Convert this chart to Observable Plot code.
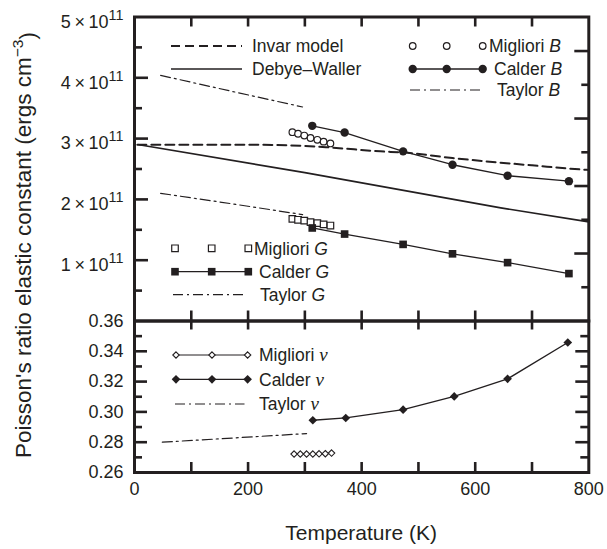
<!DOCTYPE html>
<html><head><meta charset="utf-8">
<script src="https://cdn.jsdelivr.net/npm/d3@7"></script>
<script src="https://cdn.jsdelivr.net/npm/@observablehq/plot@0.6"></script>
<style>
body{margin:0;background:#fff;}
#wrap{position:relative;width:607px;height:549px;}
#wrap svg{position:absolute;left:0;top:0;}
</style></head><body><div id="wrap"></div>
<script>
// ---------- data (elastic constants in units of 10^11 ergs cm^-3) ----------
const calderT   = [313, 370, 473, 560, 657, 765];
const calderB   = [3.21, 3.10, 2.79, 2.57, 2.39, 2.30];
const calderG   = [1.53, 1.43, 1.26, 1.105, 0.96, 0.78];
const calderNuT = [314, 372, 473, 563, 657, 763];
const calderNu  = [0.2945, 0.2960, 0.3015, 0.3102, 0.3218, 0.3458];

const miglioriT   = [278, 288, 299, 310, 322, 333, 345];
const miglioriB   = [3.105, 3.08, 3.05, 3.01, 2.98, 2.95, 2.92];
const miglioriG   = [1.68, 1.665, 1.65, 1.625, 1.61, 1.59, 1.57];
const miglioriNuT = [281, 292, 303, 314, 325, 336, 347];
const miglioriNu  = [0.2722, 0.2722, 0.2722, 0.2722, 0.2723, 0.2724, 0.2728];

const taylorT   = [46, 170, 296];
const taylorB   = [4.04, 3.78, 3.52];
const taylorG   = [2.10, 1.93, 1.75];
const taylorNuT = [49, 175, 303];
const taylorNu  = [0.2800, 0.2828, 0.2857];

const invarT = [5, 100, 200, 300, 350, 433, 474, 560, 638, 700, 791, 800];
const invar  = [2.90, 2.90, 2.90, 2.88, 2.85, 2.79, 2.77, 2.68, 2.61, 2.56, 2.49, 2.485];
const dwT = [8, 300, 645, 800];
const dw  = [2.90, 2.44, 1.86, 1.63];

// ---------- scales & ticks ----------
const xDomain = [0, 800];
const topDomain = [0, 5];
const botDomain = [0.26, 0.36];
const xLabels   = [0, 200, 400, 600, 800];
const xTickVals = [100, 200, 300, 400, 500, 600, 700];
const topYLabels = [1, 2, 3, 4, 5];
const topYMajor  = [1, 2, 3, 4];
const topYMinor  = [0.5, 1.5, 2.5, 3.5, 4.5];
const topRightLong  = [1.11, 2.22, 3.33, 4.44];
const topRightShort = [0.555, 1.665, 2.775, 3.885];
const botYLabels = [0.26, 0.28, 0.30, 0.32, 0.34, 0.36];
const botYMajor  = [0.28, 0.30, 0.32, 0.34];
const botYMinor  = [0.27, 0.29, 0.31, 0.33, 0.35];

const zip = (xs, ys) => xs.map((x, i) => ({x, y: ys[i]}));

// ---------- layout ----------
const W = 607, H = 549, ml = 134, mr = 18.7;
const innerW = W - ml - mr;
const topMT = 16.5, topMB = H - 320.5;
const botMT = 320.5, botMB = H - 472;
const topInnerH = H - topMT - topMB, botInnerH = H - botMT - botMB;
const ink = "#231f20";
const font = "'Liberation Sans', Arial, Helvetica, sans-serif";
const dashDot = "10,4,2,4";
const plotStyle = {fontFamily: font, fontSize: "18px", background: "transparent", overflow: "visible", color: ink};

// inward tick marks: pixel lengths converted to data units of each scale
const perPxX = (xDomain[1] - xDomain[0]) / innerW;
function yTicks(vals, len, side) {
  const L = len * perPxX;
  return Plot.ruleY(vals, {y: d => d, stroke: ink, strokeWidth: 2.6,
    x1: side === "left" ? xDomain[0] : xDomain[1] - L,
    x2: side === "left" ? xDomain[0] + L : xDomain[1]});
}
function xTicks(vals, len, side, dom, ih) {
  const L = len * (dom[1] - dom[0]) / ih;
  return Plot.ruleX(vals, {x: d => d, stroke: ink, strokeWidth: 2.6,
    y1: side === "top" ? dom[1] - L : dom[0],
    y2: side === "top" ? dom[1] : dom[0] + L});
}

// ---------- top panel ----------
const topPlot = Plot.plot({
  width: W, height: H, marginLeft: ml, marginRight: mr, marginTop: topMT, marginBottom: topMB,
  style: plotStyle,
  x: {domain: xDomain, axis: null},
  y: {domain: topDomain, axis: null},
  marks: [
    Plot.line(zip(invarT, invar), {x: "x", y: "y", stroke: ink, strokeWidth: 2, strokeDasharray: "9,5", curve: "monotone-x"}),
    Plot.line(zip(dwT, dw), {x: "x", y: "y", stroke: ink, strokeWidth: 1.6}),
    Plot.line(zip(taylorT, taylorB), {x: "x", y: "y", stroke: ink, strokeWidth: 1.2, strokeDasharray: dashDot}),
    Plot.line(zip(taylorT, taylorG), {x: "x", y: "y", stroke: ink, strokeWidth: 1.2, strokeDasharray: dashDot}),
    Plot.dot(zip(miglioriT, miglioriB), {x: "x", y: "y", r: 3.3, fill: "white", stroke: ink, strokeWidth: 1.2}),
    Plot.dot(zip(miglioriT, miglioriG), {x: "x", y: "y", r: 3.7, symbol: "square", fill: "white", stroke: ink, strokeWidth: 1.2}),
    Plot.line(zip(calderT, calderB), {x: "x", y: "y", stroke: ink, strokeWidth: 1.3}),
    Plot.dot(zip(calderT, calderB), {x: "x", y: "y", r: 4.2, fill: ink}),
    Plot.line(zip(calderT, calderG), {x: "x", y: "y", stroke: ink, strokeWidth: 1.3}),
    Plot.dot(zip(calderT, calderG), {x: "x", y: "y", r: 4.3, symbol: "square", fill: ink}),
    yTicks(topYMajor, 14, "left"),
    yTicks(topYMinor, 8, "left"),
    yTicks(topRightLong, 14, "right"),
    yTicks(topRightShort, 7, "right"),
    xTicks(xTickVals, 10, "top", topDomain, topInnerH),
    xTicks(xTickVals, 10, "bottom", topDomain, topInnerH),
    Plot.frame({stroke: ink, strokeWidth: 3}),
    Plot.axisY({ticks: topYLabels, label: null, tickSize: 0, tickPadding: 11, dy: 5, fontSize: 18, tickFormat: d => `${d}\u2009×\u200910`})
  ]
});

// ---------- bottom panel ----------
const botPlot = Plot.plot({
  width: W, height: H, marginLeft: ml, marginRight: mr, marginTop: botMT, marginBottom: botMB,
  style: plotStyle,
  x: {domain: xDomain, axis: null},
  y: {domain: botDomain, axis: null},
  marks: [
    Plot.line(zip(taylorNuT, taylorNu), {x: "x", y: "y", stroke: ink, strokeWidth: 1.2, strokeDasharray: dashDot}),
    Plot.line(zip(miglioriNuT, miglioriNu), {x: "x", y: "y", stroke: ink, strokeWidth: 1}),
    Plot.dot(zip(miglioriNuT, miglioriNu), {x: "x", y: "y", r: 2.9, symbol: "diamond2", fill: "white", stroke: ink, strokeWidth: 1.1}),
    Plot.line(zip(calderNuT, calderNu), {x: "x", y: "y", stroke: ink, strokeWidth: 1.3}),
    Plot.dot(zip(calderNuT, calderNu), {x: "x", y: "y", r: 3.9, symbol: "diamond2", fill: ink}),
    yTicks(botYMajor, 13, "left"),
    yTicks(botYMinor, 8, "left"),
    yTicks(botYMajor, 13, "right"),
    yTicks(botYMinor, 8, "right"),
    xTicks(xTickVals, 9, "top", botDomain, botInnerH),
    xTicks(xTickVals, 10, "bottom", botDomain, botInnerH),
    Plot.frame({stroke: ink, strokeWidth: 3}),
    Plot.axisY({ticks: botYLabels, label: null, tickSize: 0, tickPadding: 11, fontSize: 18, tickFormat: d => d.toFixed(2)}),
    Plot.axisX({ticks: xLabels, label: null, tickSize: 0, tickPadding: 10, fontSize: 18, tickFormat: d => String(d)})
  ]
});

const wrap = document.getElementById("wrap");
wrap.append(topPlot, botPlot);

// superscript exponents on top-panel tick labels
d3.select(topPlot).selectAll('[aria-label="y-axis tick label"] text').each(function () {
  d3.select(this).append("tspan").attr("dy", "-0.55em").attr("font-size", "0.8em").text("11");
});

// ---------- legends & axis titles ----------
function legend(svg, items) {
  const g = d3.select(svg).append("g").attr("font-family", font).attr("font-size", 17.5)
    .attr("fill", ink).attr("text-anchor", "start");
  for (const it of items) {
    if (it.line) g.append("line").attr("x1", it.x0).attr("x2", it.x1).attr("y1", it.y).attr("y2", it.y)
      .attr("stroke", ink).attr("stroke-width", it.line.w).attr("stroke-dasharray", it.line.dash || null);
    if (it.sym) for (const cx of it.xs) g.append("path")
      .attr("d", d3.symbol(it.sym.type, Math.PI * it.sym.r * it.sym.r)())
      .attr("transform", `translate(${cx},${it.y})`)
      .attr("fill", it.sym.fill).attr("stroke", ink).attr("stroke-width", it.sym.sw);
    const t = g.append("text").attr("x", it.tx).attr("y", it.y).attr("dy", "0.36em");
    t.append("tspan").text(it.label);
    if (it.v) t.append("tspan").attr("font-style", "italic")
      .attr("font-family", it.serif ? "'Liberation Serif', 'Times New Roman', serif" : null)
      .attr("font-size", it.serif ? 19 : null).text(it.v);
  }
}
const topXs = [412.7, 446.7, 482.7];
const gXs = [175, 211.7, 248.3];
const nuXs = [176, 212, 247.6];
legend(topPlot, [
  {label: "Invar model", y: 46, x0: 171, x1: 242, line: {w: 2, dash: "9,5"}, tx: 252},
  {label: "Debye–Waller", y: 69, x0: 171, x1: 242, line: {w: 1.6}, tx: 252},
  {label: "Migliori ", v: "B", y: 46, xs: topXs, sym: {type: d3.symbolCircle, r: 3.3, fill: "white", sw: 1.2}, tx: 489},
  {label: "Calder ", v: "B", y: 69, x0: topXs[0], x1: topXs[2], line: {w: 1.3}, xs: topXs, sym: {type: d3.symbolCircle, r: 4.2, fill: ink, sw: 0}, tx: 494},
  {label: "Taylor ", v: "B", y: 90, x0: 410, x1: 482, line: {w: 1.2, dash: dashDot}, tx: 497},
  {label: "Migliori ", v: "G", y: 248.3, xs: gXs, sym: {type: d3.symbolSquare, r: 3.7, fill: "white", sw: 1.2}, tx: 254},
  {label: "Calder ", v: "G", y: 271.7, x0: gXs[0], x1: gXs[2], line: {w: 1.3}, xs: gXs, sym: {type: d3.symbolSquare, r: 4.3, fill: ink, sw: 0}, tx: 259},
  {label: "Taylor ", v: "G", y: 294.7, x0: 173, x1: 245, line: {w: 1.2, dash: dashDot}, tx: 260}
]);
legend(botPlot, [
  {label: "Migliori ", v: "ν", serif: true, y: 355, x0: nuXs[0], x1: nuXs[2], line: {w: 1}, xs: nuXs, sym: {type: d3.symbolDiamond2, r: 2.9, fill: "white", sw: 1.1}, tx: 259},
  {label: "Calder ", v: "ν", serif: true, y: 379.3, x0: nuXs[0], x1: nuXs[2], line: {w: 1.3}, xs: nuXs, sym: {type: d3.symbolDiamond2, r: 3.9, fill: ink, sw: 0}, tx: 259},
  {label: "Taylor ", v: "ν", serif: true, y: 404, x0: 175, x1: 244.5, line: {w: 1.2, dash: dashDot}, tx: 259}
]);

const bsel = d3.select(botPlot);
bsel.append("text").attr("x", ml + innerW / 2).attr("y", 540).attr("text-anchor", "middle")
  .attr("font-family", font).attr("font-size", 21).attr("fill", ink).text("Temperature (K)");
const yl = bsel.append("text").attr("transform", "translate(31,245) rotate(-90)").attr("text-anchor", "middle")
  .attr("font-family", font).attr("font-size", 22.5).attr("fill", ink);
yl.append("tspan").text("Poisson's ratio elastic constant (ergs cm");
yl.append("tspan").attr("dy", "-0.5em").attr("font-size", 15.5).text("−3");
yl.append("tspan").attr("dy", "0.5em").text(")");
</script></body></html>
